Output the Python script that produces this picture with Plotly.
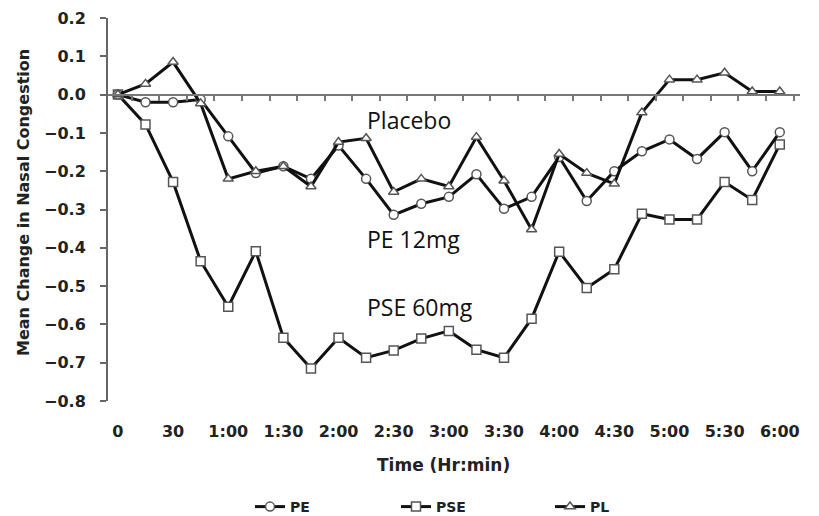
import plotly.graph_objects as go

time_min = [0, 15, 30, 45, 60, 75, 90, 105, 120, 135, 150, 165, 180,
            195, 210, 225, 240, 255, 270, 285, 300, 315, 330, 345, 360]
pe = [0.0, -0.02, -0.02, -0.013, -0.109, -0.205, -0.187, -0.22, -0.133, -0.22,
      -0.314, -0.285, -0.267, -0.208, -0.298, -0.267, -0.163, -0.278, -0.2,
      -0.148, -0.117, -0.168, -0.098, -0.2, -0.098]
pse = [0.0, -0.078, -0.228, -0.435, -0.554, -0.409, -0.635, -0.715, -0.635,
       -0.687, -0.668, -0.637, -0.617, -0.666, -0.687, -0.585, -0.41, -0.505,
       -0.456, -0.311, -0.326, -0.326, -0.228, -0.275, -0.13]
pl = [0.0, 0.028, 0.085, -0.023, -0.22, -0.2, -0.187, -0.24, -0.124, -0.114,
      -0.254, -0.22, -0.24, -0.111, -0.225, -0.352, -0.155, -0.205, -0.233,
      -0.047, 0.039, 0.039, 0.057, 0.008, 0.008]

x_tickvals = [0, 30, 60, 90, 120, 150, 180, 210, 240, 270, 300, 330, 360]
x_ticktext = ["0", "30", "1:00", "1:30", "2:00", "2:30", "3:00", "3:30",
              "4:00", "4:30", "5:00", "5:30", "6:00"]
zero_ticks = [7.5 + 15 * k for k in range(25)]
y_tickvals = [0.2, 0.1, 0.0, -0.1, -0.2, -0.3, -0.4, -0.5, -0.6, -0.7, -0.8]

labels = [("Placebo", -0.067), ("PE 12mg", -0.376), ("PSE 60mg", -0.554)]

XR = [-5.4, 371]
OFF = 8  # page body margin
W, H = 819 - OFF, 516 - OFF
ML, MT = 108 - OFF, 18 - OFF
MB = H - (401 - OFF)
MR = W - (800 - OFF)
PW, PH = W - ML - MR, H - MT - MB

BOLD = "DejaVu Sans"


def px_x(p):
    return (p - OFF - ML) / PW


def px_y(p):
    return (H - MB - (p - OFF)) / PH


fig = go.Figure()


def add(name, y, symbol, legend):
    fig.add_trace(go.Scatter(
        x=time_min, y=y, name=name, mode="lines+markers",
        line=dict(color="#111111", width=3),
        marker=dict(symbol=symbol, size=9, color="white",
                    line=dict(color="#555555", width=1.5)),
        legend=legend,
    ))


add("PSE", pse, "square", "legend2")
add("PE", pe, "circle", "legend")
add("PL", pl, "triangle-up", "legend3")

fig.add_trace(go.Scatter(x=[XR[0], XR[1]], y=[0, 0], xaxis="x2", mode="lines",
                         line=dict(width=0), showlegend=False, hoverinfo="skip"))

legfont = dict(family=BOLD, size=14, color="#222222", weight="bold")


def leg(xpx):
    return dict(orientation="h", x=px_x(xpx), y=px_y(507), xref="paper", yref="paper",
                xanchor="left", yanchor="middle", font=legfont,
                bgcolor="rgba(0,0,0,0)", itemwidth=30)


tickfont = dict(family=BOLD, size=16, color="#222222", weight="bold")

fig.update_layout(
    width=W, height=H,
    margin=dict(l=ML, r=MR, t=MT, b=MB, autoexpand=False),
    paper_bgcolor="white", plot_bgcolor="white",
    xaxis=dict(range=XR, tickvals=x_tickvals, ticktext=x_ticktext,
               showline=False, showgrid=False, zeroline=False, ticks="",
               ticklabelstandoff=19, automargin=False, tickfont=tickfont,
               ticklabeloverflow="allow"),
    xaxis2=dict(range=XR, overlaying="x", anchor="free", position=0.8, side="bottom",
                tickvals=zero_ticks, showticklabels=False, ticks="outside",
                ticklen=5, tickwidth=1.5, tickcolor="#777777",
                showline=True, linecolor="#777777", linewidth=2,
                showgrid=False, zeroline=False, automargin=False),
    yaxis=dict(range=[-0.8, 0.2], tickvals=y_tickvals, tickformat=".1f",
               showline=True, linecolor="#666666", linewidth=2,
               ticks="outside", ticklen=6, tickwidth=1.5, tickcolor="#666666",
               ticklabelstandoff=11, showgrid=False, zeroline=False,
               automargin=False, tickfont=tickfont, ticklabeloverflow="allow"),
    legend=leg(250),
    legend2=leg(396),
    legend3=leg(550),
    showlegend=True,
)

for text, yv in labels:
    fig.add_annotation(x=134.3, y=yv, text=text, showarrow=False, xanchor="left",
                       yanchor="middle",
                       font=dict(family="Open Sans", size=23, color="#111111"))

fig.add_annotation(x=px_x(23), y=px_y(203), xref="paper", yref="paper",
                   text="<b>Mean Change in Nasal Congestion</b>", textangle=-90,
                   showarrow=False, xanchor="center", yanchor="middle",
                   font=dict(family=BOLD, size=16, color="#222222"))
fig.add_annotation(x=px_x(443), y=px_y(465), xref="paper", yref="paper",
                   text="<b>Time (Hr:min)</b>", showarrow=False,
                   xanchor="center", yanchor="middle",
                   font=dict(family=BOLD, size=17, color="#222222"))

fig.write_html("out.html")
